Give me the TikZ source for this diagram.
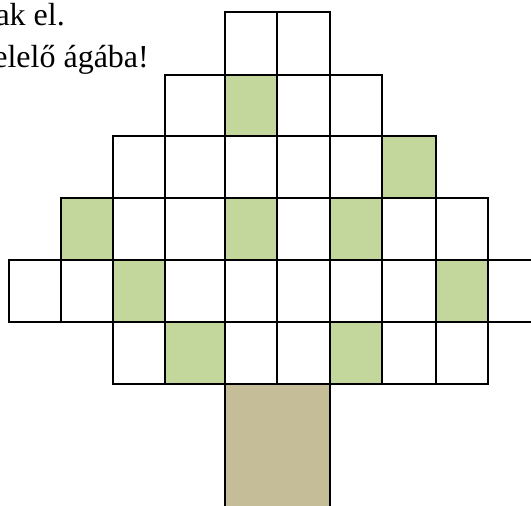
\documentclass[tikz,border=0pt]{standalone}
\usepackage{fontspec}
\setmainfont{Liberation Serif}
\usepackage{tikz}

\definecolor{leafgreen}{HTML}{C3D69B}
\definecolor{trunkbrown}{HTML}{C4BD97}

\tikzset{
  cell/.style={draw=black, line width=1.3pt},
  leaf/.style={fill=leafgreen},
  trunk/.style={fill=trunkbrown, draw=black, line width=1.3pt}
}

% edges of the columns and rows
\def\colx{{9,61,113,165,225,277,330,382,436,488,540}}
\def\rowy{{12,75,136,198,260,322,384}}

\begin{document}
\begin{tikzpicture}[x=1pt,y=-1pt]

\useasboundingbox (0,0) rectangle (531,506);

\node[anchor=base east, inner sep=0pt, font=\fontsize{32}{38}\selectfont] (line1) at (65,26) {ak el.};
\node[anchor=base east, inner sep=0pt, font=\fontsize{32}{38}\selectfont] (line2) at (149,67) {elelő ágába!};

% green leaves
\foreach \r/\c in {1/4, 2/7, 3/1, 3/4, 3/6, 4/2, 4/8, 5/3, 5/6} {
  \pgfmathsetmacro\xl{\colx[\c]}
  \pgfmathsetmacro\xr{\colx[\c+1]}
  \pgfmathsetmacro\yt{\rowy[\r]}
  \pgfmathsetmacro\yb{\rowy[\r+1]}
  \fill[leaf] (\xl,\yt) rectangle (\xr,\yb);
}

% the crown, row by row
\foreach \r/\a/\b in {0/4/5, 1/3/6, 2/2/7, 3/1/8, 4/0/9, 5/2/8} {
  \foreach \c in {\a,...,\b} {
    \pgfmathsetmacro\xl{\colx[\c]}
    \pgfmathsetmacro\xr{\colx[\c+1]}
    \pgfmathsetmacro\yt{\rowy[\r]}
    \pgfmathsetmacro\yb{\rowy[\r+1]}
    \draw[cell] (\xl,\yt) rectangle (\xr,\yb);
  }
}

% trunk
\draw[trunk] (225,384) rectangle (330,507);

\end{tikzpicture}
\end{document}
